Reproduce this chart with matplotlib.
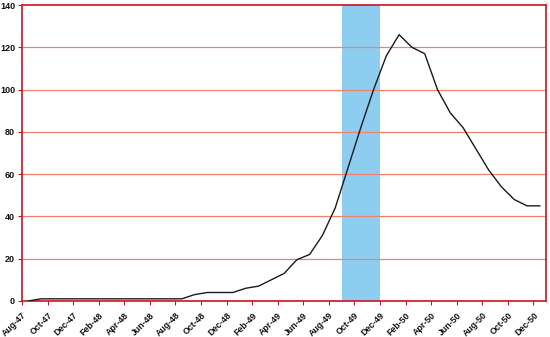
import numpy as np
import matplotlib.pyplot as plt

plt.rcParams['font.family'] = ['Liberation Sans', 'DejaVu Sans']

# monthly series, Aug 1947 - Dec 1950
months = ['Aug-47', 'Sep-47', 'Oct-47', 'Nov-47', 'Dec-47', 'Jan-48', 'Feb-48',
          'Mar-48', 'Apr-48', 'May-48', 'Jun-48', 'Jul-48', 'Aug-48', 'Sep-48',
          'Oct-48', 'Nov-48', 'Dec-48', 'Jan-49', 'Feb-49', 'Mar-49', 'Apr-49',
          'May-49', 'Jun-49', 'Jul-49', 'Aug-49', 'Sep-49', 'Oct-49', 'Nov-49',
          'Dec-49', 'Jan-50', 'Feb-50', 'Mar-50', 'Apr-50', 'May-50', 'Jun-50',
          'Jul-50', 'Aug-50', 'Sep-50', 'Oct-50', 'Nov-50', 'Dec-50']
values = [0, 1, 1, 1, 1, 1, 1, 1, 1, 1, 1, 1, 1, 3,
          4, 4, 4, 6, 7, 10, 13, 19.5, 22, 31, 44, 63, 82, 100,
          116, 126, 120, 117, 100, 89, 82, 72, 62, 54, 48, 45, 45]

# shaded period (Sep-49 .. Nov-49)
band_start = 'Sep-49'
band_end = 'Nov-49'

y_ticks = [0, 20, 40, 60, 80, 100, 120, 140]

x = np.arange(len(months))

fig = plt.figure(figsize=(5.5, 3.37), dpi=100)
ax = fig.add_axes([0.04, 0.107, 0.953, 0.878])

i0 = months.index(band_start)
i1 = months.index(band_end)
ax.axvspan(i0 - 0.5, i1 + 0.5, color='#8DCDEF', lw=0, zorder=1)

for y in y_ticks[1:-1]:
    ax.axhline(y, color='#F08070', lw=0.9, zorder=2)

ax.plot(x, values, color='#1a1a1a', lw=1.0, zorder=3)

ax.set_xlim(-0.5, len(months) - 0.5)
ax.set_ylim(0, 140)
ax.set_yticks(y_ticks)
ax.set_yticklabels([str(v) for v in y_ticks], fontsize=6.5, fontweight='bold')

tick_pos = x[::2] - 0.5
ax.set_xticks(tick_pos)
ax.set_xticklabels(months[::2], rotation=45, ha='right',
                   rotation_mode='anchor', fontsize=6.3, fontweight='bold')

for s in ax.spines.values():
    s.set_color('#D0101E')
    s.set_linewidth(1.2)
ax.tick_params(axis='both', colors='#D0101E', length=3, width=0.8,
               labelcolor='#111111')
ax.tick_params(axis='y', pad=2)
ax.tick_params(axis='x', pad=4)

fig.savefig('out.png', dpi=100)
